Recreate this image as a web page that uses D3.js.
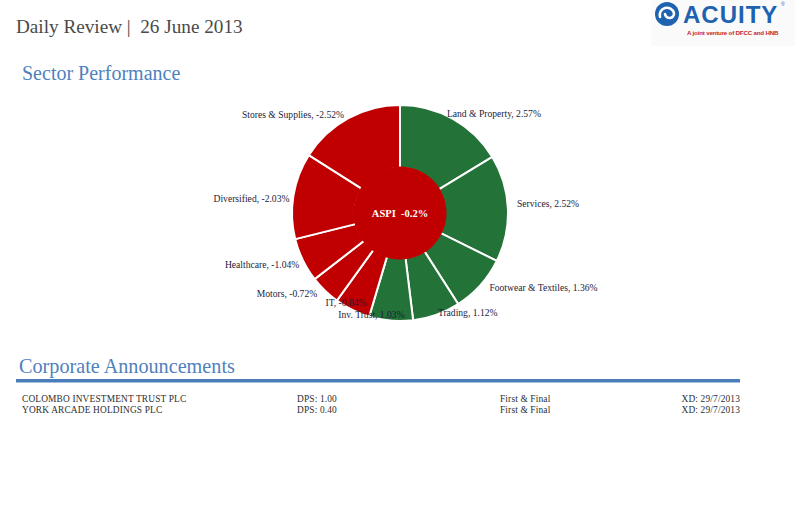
<!DOCTYPE html>
<html>
<head>
<meta charset="utf-8">
<script src="https://cdn.jsdelivr.net/npm/d3@7"></script>
<style>
  html, body { margin: 0; padding: 0; background: #ffffff; }
  svg { display: block; }
</style>
</head>
<body>
<svg id="chart" width="795" height="508"></svg>
<script>
// ---- data ----
const sectors = ["Land & Property", "Services", "Footwear & Textiles", "Trading", "Inv. Trust",
                 "IT", "Motors", "Healthcare", "Diversified", "Stores & Supplies"];
const changes = [2.57, 2.52, 1.36, 1.12, 1.03, -0.84, -0.72, -1.04, -2.03, -2.52];
const indexName = "ASPI";
const indexChange = -0.2;

const companies = ["COLOMBO INVESTMENT TRUST PLC", "YORK ARCADE HOLDINGS PLC"];
const dividends = ["DPS: 1.00", "DPS: 0.40"];
const dividendTypes = ["First & Final", "First & Final"];
const xDates = ["XD: 29/7/2013", "XD: 29/7/2013"];

const title = "Daily Review |  26 June 2013";

// ---- drawing ----
const svg = d3.select("#chart");
const serif = "'Liberation Serif', 'DejaVu Serif', serif";
const green = "#237237", red = "#c00000", blue = "#4f81bd";

// header
svg.append("text").attr("x", 16).attr("y", 33)
  .attr("font-family", serif).attr("font-size", 19.2).attr("fill", "#4a4a4a")
  .attr("xml:space", "preserve").text(title);

// logo
const logo = svg.append("g");
logo.append("rect").attr("x", 651).attr("y", 0).attr("width", 144).attr("height", 46).attr("fill", "#fafafa");
logo.append("circle").attr("cx", 667).attr("cy", 14).attr("r", 12).attr("fill", "#1f62b0");
logo.append("path").attr("d", "M660,17 A7,7 0 1 1 674,13 A4.5,4.5 0 1 1 665,14")
  .attr("fill", "none").attr("stroke", "#ffffff").attr("stroke-width", 2.6).attr("stroke-linecap", "round");
logo.append("text").attr("x", 683).attr("y", 23)
  .attr("font-family", "'Liberation Sans', Arial, sans-serif").attr("font-weight", "bold")
  .attr("font-size", 24).attr("letter-spacing", 1).attr("fill", "#1f62b0").text("ACUITY");
logo.append("text").attr("x", 781).attr("y", 6)
  .attr("font-family", "'Liberation Sans', Arial, sans-serif").attr("font-size", 5).attr("fill", "#1f62b0").text("®");
logo.append("text").attr("x", 687).attr("y", 35)
  .attr("font-family", "'Liberation Sans', Arial, sans-serif").attr("font-weight", "bold")
  .attr("font-size", 6.2).attr("letter-spacing", -0.2).attr("fill", "#c4262e").text("A joint venture of DFCC and HNB");

// section titles
svg.append("text").attr("x", 22).attr("y", 80)
  .attr("font-family", serif).attr("font-size", 20).attr("fill", blue).text("Sector Performance");
svg.append("text").attr("x", 19).attr("y", 373)
  .attr("font-family", serif).attr("font-size", 20.2).attr("fill", blue).text("Corporate Announcements");
svg.append("rect").attr("x", 16).attr("y", 379).attr("width", 724).attr("height", 3.5).attr("fill", "#4a7ebb");

// pie
const cx = 400, cy = 213, rOuter = 108, rInner = 45;
const data = sectors.map((s, i) => ({ name: s, value: changes[i] }));
const pie = d3.pie().value(d => Math.abs(d.value)).sort(null);
const arcs = pie(data);
const arc = d3.arc().innerRadius(rInner).outerRadius(rOuter);
const g = svg.append("g").attr("transform", `translate(${cx},${cy})`);

g.selectAll("path.slice").data(arcs).join("path")
  .attr("class", "slice")
  .attr("d", arc)
  .attr("fill", d => d.data.value >= 0 ? green : red)
  .attr("stroke", "#ffffff").attr("stroke-width", 2).attr("stroke-linejoin", "miter");

g.append("circle").attr("r", rInner + 1.5).attr("fill", indexChange >= 0 ? green : red);
g.append("text").attr("y", 4).attr("text-anchor", "middle")
  .attr("font-family", serif).attr("font-weight", "bold").attr("font-size", 10.5)
  .attr("fill", "#ffffff").attr("xml:space", "preserve")
  .text(`${indexName}  ${indexChange}%`);

// labels (layout nudges only)
const nudge = { "Services": [5, -5], "Inv. Trust": [14, -10], "IT": [16, -11], "Motors": [-5, 0],
                "Footwear & Textiles": [6, 0], "Land & Property": [-8, -2], "Stores & Supplies": [-2, 0],
                "Diversified": [0, 4], "Healthcare": [0, 3], "Trading": [0, -6] };
const labelR = 112;
const fmt = v => v.toFixed(2) + "%";
g.selectAll("text.lbl").data(arcs).join("text")
  .attr("class", "lbl")
  .attr("x", d => { const a = (d.startAngle + d.endAngle) / 2; return Math.sin(a) * labelR + (nudge[d.data.name] || [0, 0])[0]; })
  .attr("y", d => { const a = (d.startAngle + d.endAngle) / 2; return -Math.cos(a) * labelR + (nudge[d.data.name] || [0, 0])[1]; })
  .attr("dy", "0.35em")
  .attr("text-anchor", d => ((d.startAngle + d.endAngle) / 2) < Math.PI ? "start" : "end")
  .attr("font-family", serif).attr("font-size", 9.6).attr("fill", "#1c1c3a")
  .text(d => `${d.data.name}, ${fmt(d.data.value)}`);

// announcements table
const rowY = [402, 413];
const tbl = svg.append("g").attr("font-family", serif).attr("font-size", 9.4)
  .attr("letter-spacing", 0.15).attr("fill", "#2e2e2e");
companies.forEach((c, i) => {
  tbl.append("text").attr("x", 22).attr("y", rowY[i]).text(c);
  tbl.append("text").attr("x", 297).attr("y", rowY[i]).text(dividends[i]);
  tbl.append("text").attr("x", 500).attr("y", rowY[i]).text(dividendTypes[i]);
  tbl.append("text").attr("x", 740).attr("y", rowY[i]).attr("text-anchor", "end").text(xDates[i]);
});
</script>
</body>
</html>
